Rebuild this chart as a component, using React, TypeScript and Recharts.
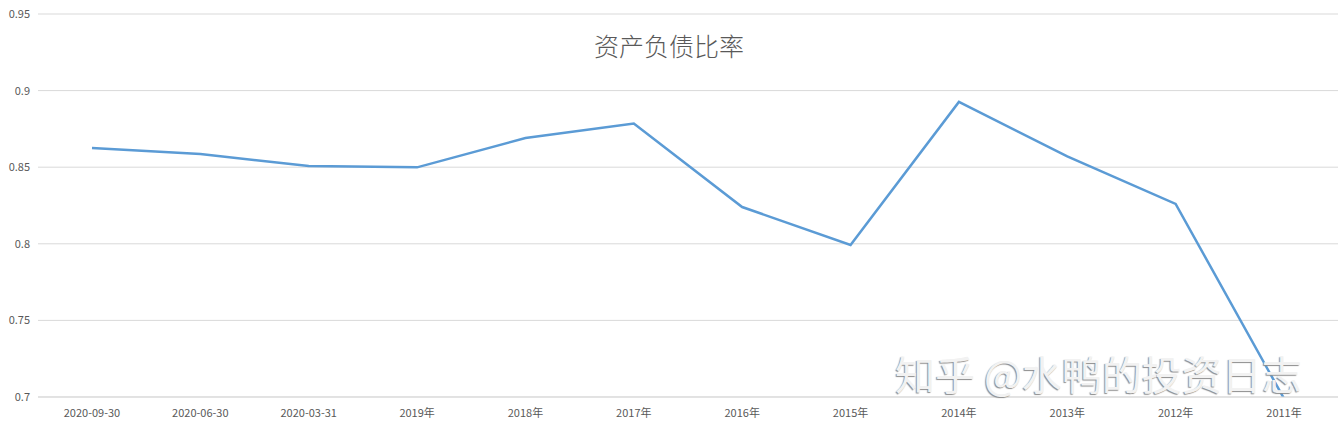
import React from 'react';
import { LineChart, Line, XAxis, YAxis, CartesianGrid } from 'recharts';

const periods = [
  '2020-09-30', '2020-06-30', '2020-03-31', '2019年', '2018年', '2017年',
  '2016年', '2015年', '2014年', '2013年', '2012年', '2011年',
];

const debtRatio = [
  0.8625, 0.8586, 0.8508, 0.8499, 0.869, 0.8785,
  0.824, 0.7992, 0.8926, 0.857, 0.826, 0.699,
];

const yTicks = [0.7, 0.75, 0.8, 0.85, 0.9, 0.95];

const data = periods.map((p, i) => ({ period: p, ratio: debtRatio[i] }));

const font = '"Noto Sans CJK SC", "Noto Sans", sans-serif';

const App = () => {
  return (
    <div style={{ position: 'fixed', left: 0, top: 0, width: 1338, height: 430, background: '#fff', fontFamily: font }}>
      <div
        style={{
          position: 'absolute', left: 0, width: 1338, top: 28, textAlign: 'center',
          fontSize: 25, color: '#595959', lineHeight: '34px', fontWeight: 300,
        }}
      >
        资产负债比率
      </div>
      <LineChart width={1338} height={430} data={data} margin={{ top: 14, right: 0, bottom: 0, left: 0 }}>
        <CartesianGrid vertical={false} stroke="#d9d9d9" />
        <XAxis
          dataKey="period"
          height={33}
          tickLine={false}
          axisLine={{ stroke: '#d9d9d9' }}
          tick={{ fontSize: 11, fill: '#595959', fontFamily: font }}
          interval={0}
          tickMargin={6}
          padding={{ left: 54, right: 54 }}
        />
        <YAxis
          domain={[0.7, 0.95]}
          ticks={yTicks}
          allowDataOverflow
          width={38}
          tickLine={false}
          axisLine={false}
          tick={{ fontSize: 11, fill: '#595959', fontFamily: font }}
        />
        <Line
          type="linear"
          dataKey="ratio"
          stroke="#5b9bd5"
          strokeWidth={2.5}
          dot={false}
          isAnimationActive={false}
        />
      </LineChart>
      <div
        style={{
          position: 'absolute', left: 895, top: 348, fontSize: 40, lineHeight: '50px',
          color: '#f2f2f2', textShadow: '-1px 1px 1px #8c8c8c', whiteSpace: 'nowrap',
          pointerEvents: 'none',
        }}
      >
        知乎 @水鸭的投资日志
      </div>
    </div>
  );
};

export default App;
